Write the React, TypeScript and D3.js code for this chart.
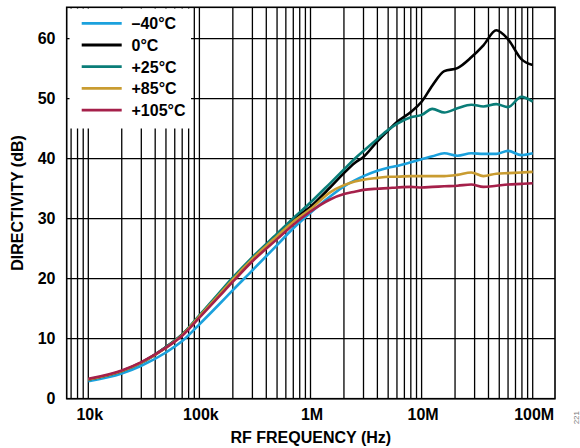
import React from "react";
import * as d3 from "d3";

const freqs = [
  10e3, 20e3, 30e3, 50e3, 70e3, 100e3, 150e3, 200e3, 300e3, 500e3, 700e3,
  1e6, 1.5e6, 2e6, 2.5e6, 3e6, 4e6, 5e6, 6e6, 8e6, 10e6, 12.5e6, 16e6, 21e6,
  28e6, 36e6, 47e6, 60e6, 79e6, 100e6,
];
const dirM40 = [
  2.9, 4.2, 5.5, 7.7, 9.6, 12.4, 15.7, 18.1, 21.4, 25.6, 28.4, 31.0, 33.7,
  35.4, 36.4, 37.1, 38.0, 38.5, 38.8, 39.4, 39.9, 40.4, 40.9, 40.5, 40.9,
  40.8, 40.8, 41.3, 40.6, 40.9,
];
const dir0 = [
  3.2, 4.6, 6.0, 8.6, 10.7, 13.8, 17.4, 20.0, 23.4, 27.3, 29.9, 32.0, 35.2,
  37.6, 39.3, 40.3, 42.9, 44.7, 46.1, 47.8, 49.5, 52.2, 54.6, 55.1, 56.9,
  58.9, 61.4, 59.9, 56.6, 55.6,
];
const dir25 = [
  3.2, 4.6, 6.0, 8.6, 10.7, 13.9, 17.6, 20.2, 23.6, 27.5, 30.1, 32.7, 35.9,
  38.2, 40.0, 41.3, 43.3, 44.8, 45.8, 46.9, 47.3, 48.3, 47.7, 48.4, 49.0,
  48.7, 49.1, 48.6, 50.3, 49.5,
];
const dir85 = [
  3.2, 4.6, 6.0, 8.5, 10.6, 13.7, 17.3, 19.9, 23.3, 27.1, 29.5, 31.6, 34.4,
  35.6, 36.2, 36.5, 36.8, 37.0, 37.0, 37.1, 37.1, 37.1, 37.1, 37.3, 37.7,
  37.1, 37.5, 37.6, 37.7, 37.8,
];
const dir105 = [
  3.3, 4.7, 6.1, 8.5, 10.5, 13.5, 17.0, 19.5, 22.9, 26.6, 29.0, 31.2, 33.2,
  34.1, 34.5, 34.8, 35.0, 35.1, 35.2, 35.3, 35.2, 35.3, 35.4, 35.5, 35.7,
  35.3, 35.5, 35.7, 35.8, 35.9,
];

const seriesLabels = ["\u201340°C", "0°C", "+25°C", "+85°C", "+105°C"];
const seriesColors = ["#1ba1dd", "#000000", "#0a7d78", "#c99c31", "#a5204a"];
const seriesValues = [dirM40, dir0, dir25, dir85, dir105];
const drawOrder = [0, 1, 2, 3, 4];

const xTickValues = [1e4, 1e5, 1e6, 1e7, 1e8];
const xTickLabels = ["10k", "100k", "1M", "10M", "100M"];
const yTickValues = [0, 10, 20, 30, 40, 50, 60];

const W = 580;
const H = 448;
const left = 66.7;
const right = 555;
const top = 7.3;
const bottom = 398.7;

export default function App() {
  const x = d3
    .scaleLog()
    .domain([Math.pow(10, 4 - 21.6 / 111.1), Math.pow(10, 8 + 22.3 / 111.1)])
    .range([left, right]);
  const y = d3.scaleLinear().domain([0, 391.4 / 6]).range([bottom, top]);

  const gridX: number[] = [];
  for (let e = 3; e <= 8; e++) {
    for (let m = 1; m <= 9; m++) {
      const v = m * Math.pow(10, e);
      if (v >= 7e3 && v <= 1e8) gridX.push(v);
    }
  }

  const line = d3
    .line<[number, number]>()
    .x((d) => x(d[0]))
    .y((d) => y(d[1]))
    .curve(d3.curveMonotoneX);

  const font = "'Liberation Sans', Arial, Helvetica, sans-serif";

  const legendRows = [0, 1, 2, 3, 4];
  const legY = (i: number) => 23.3 + i * 21.7;

  return (
    <svg
      width={W}
      height={H}
      style={{ position: "absolute", left: 0, top: 0, display: "block", background: "#fff" }}
      fontFamily={font}
    >
      <rect x={0} y={0} width={W} height={H} fill="#fff" />
      {gridX.map((v, i) => (
        <line key={"gx" + i} x1={x(v)} x2={x(v)} y1={top} y2={bottom} stroke="#000" strokeWidth={1.3} />
      ))}
      {yTickValues.map((v) => (
        <line key={"gy" + v} x1={left} x2={right} y1={y(v)} y2={y(v)} stroke="#000" strokeWidth={1.3} />
      ))}
      <rect x={69.5} y={8.5} width={121.5} height={120} fill="#fff" />
      {drawOrder.map((si) => (
        <path
          key={"s" + si}
          d={line(freqs.map((f, i) => [f, seriesValues[si][i]] as [number, number])) || ""}
          fill="none"
          stroke={seriesColors[si]}
          strokeWidth={2.6}
          strokeLinejoin="round"
        />
      ))}
      <rect x={left} y={top} width={right - left} height={bottom - top} fill="none" stroke="#000" strokeWidth={1.6} />
      {legendRows.map((i) => (
        <g key={"leg" + i}>
          <line x1={81.7} x2={121.7} y1={legY(i)} y2={legY(i)} stroke={seriesColors[i]} strokeWidth={2.8} />
          <text x={131.5} y={legY(i) + 5.8} fontSize={16} fontWeight="bold" fill="#000">
            {seriesLabels[i]}
          </text>
        </g>
      ))}
      {yTickValues.map((v) => (
        <text key={"yl" + v} x={55.5} y={y(v) + 5.6} fontSize={16} fontWeight="bold" textAnchor="end" fill="#000">
          {v}
        </text>
      ))}
      {xTickValues.map((v, i) => (
        <text key={"xl" + i} x={x(v) + 1.5} y={419.5} fontSize={16} fontWeight="bold" textAnchor="middle" fill="#000">
          {xTickLabels[i]}
        </text>
      ))}
      <text x={310.8} y={443} fontSize={16} fontWeight="bold" textAnchor="middle" fill="#000">
        RF FREQUENCY (Hz)
      </text>
      <text
        transform={`translate(22.5, 203) rotate(-90)`}
        fontSize={16}
        fontWeight="bold"
        textAnchor="middle"
        fill="#000"
      >
        DIRECTIVITY (dB)
      </text>
      <text transform={`translate(579, 411) rotate(-90)`} fontSize={8} textAnchor="end" fill="#777">
        221
      </text>
    </svg>
  );
}
